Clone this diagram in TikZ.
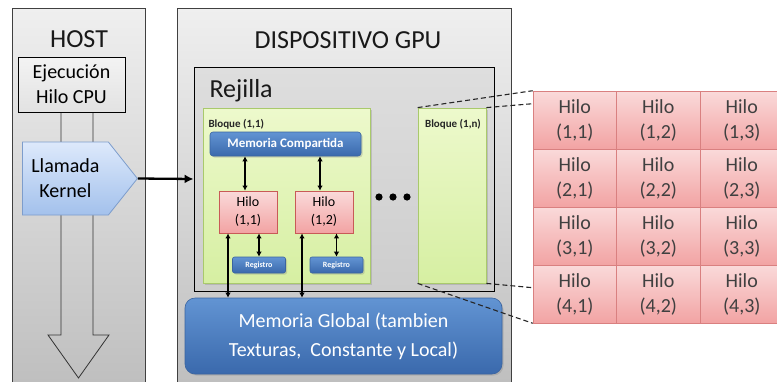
\documentclass[tikz,border=0pt]{standalone}
\usepackage{fontspec}
\setmainfont{Carlito}
\usepackage{tikz}
\usetikzlibrary{arrows.meta, positioning, shapes.symbols, shadows}

\definecolor{panelTop}{HTML}{EFEFEF}
\definecolor{panelBot}{HTML}{BEBEBE}
\definecolor{gridTop}{HTML}{DEDEDE}
\definecolor{gridBot}{HTML}{CDCDCD}
\definecolor{cpuTop}{HTML}{F3F3F3}
\definecolor{cpuBot}{HTML}{E2E2E2}
\definecolor{kernTop}{HTML}{DDE9FB}
\definecolor{kernBot}{HTML}{A3C1EC}
\definecolor{kernLine}{HTML}{7D9DCC}
\definecolor{blockTop}{HTML}{EDF9CC}
\definecolor{blockBot}{HTML}{D6EFA2}
\definecolor{blockLine}{HTML}{A9C96C}
\definecolor{blueTop}{HTML}{6294D3}
\definecolor{blueBot}{HTML}{3A69AC}
\definecolor{blueLine}{HTML}{3A64A0}
\definecolor{hiloTop}{HTML}{FADADA}
\definecolor{hiloBot}{HTML}{F2A3A3}
\definecolor{hiloLine}{HTML}{C85A57}
\definecolor{cellLine}{HTML}{D98080}
\definecolor{cellText}{HTML}{404040}

\begin{document}
\begin{tikzpicture}[
  x=1pt, y=-1pt,
  panel/.style={draw=black!75, line width=0.9pt, top color=panelTop, bottom color=panelBot, inner sep=0pt},
  title/.style={font=\fontsize{26}{28}\selectfont, text=black!90},
  cpubox/.style={draw=black, line width=0.8pt, top color=cpuTop, bottom color=cpuBot, align=center, inner sep=0pt,
    font=\fontsize{20}{25}\selectfont},
  kernbox/.style={signal, signal to=east, signal pointer angle=103, draw=kernLine, line width=0.8pt,
    top color=kernTop, bottom color=kernBot, align=center, inner sep=0pt, font=\fontsize{20}{25}\selectfont},
  gridbox/.style={draw=black, line width=0.9pt, top color=gridTop, bottom color=gridBot, inner sep=0pt},
  blockbox/.style={draw=blockLine, line width=0.8pt, top color=blockTop, bottom color=blockBot, inner sep=0pt,
    drop shadow={shadow xshift=1.5pt, shadow yshift=-1.5pt, opacity=0.3}},
  bluebox/.style={draw=blueLine, line width=0.6pt, rounded corners=#1, top color=blueTop, bottom color=blueBot,
    text=white, align=center, inner sep=0pt, drop shadow={shadow xshift=1.5pt, shadow yshift=-1.5pt, opacity=0.3}},
  bluebox/.default=3pt,
  hilobox/.style={draw=hiloLine, line width=0.8pt, top color=hiloTop, bottom color=hiloBot, align=center,
    inner sep=0pt, font=\fontsize{14}{18}\selectfont},
  cellbox/.style={draw=cellLine, line width=0.6pt, top color=hiloTop, bottom color=hiloBot, align=center,
    inner sep=0pt, minimum width=83.5pt, minimum height=58pt, text=cellText, font=\fontsize{20}{25}\selectfont},
  small/.style={font=\bfseries\fontsize{11}{13}\selectfont, text=black!85},
  link/.style={<->, >={Latex[length=5pt, width=5.5pt]}, line width=1.1pt},
  call/.style={-{Latex[length=9pt, width=9pt]}, line width=2.3pt},
  zoomline/.style={dash pattern=on 5pt off 3pt, line width=1.1pt, black!85}
]
\clip (0,0) rectangle (777,381);

% Panels
\node[panel, minimum width=133pt, minimum height=382pt] (host) at (78.5,199) {};
\node[title, anchor=base] (hostlbl) at (79,47) {HOST};
\node[panel, minimum width=334pt, minimum height=382pt] (gpu) at (344,199) {};
\node[title, anchor=base] (gpulbl) at (348,48) {DISPOSITIVO GPU};

% Host side
\draw[line width=0.8pt, black!80] (61,112) -- (61,335) -- (48,335) -- (78.5,378) -- (109,335) -- (93,335) -- (93,112);
\node[cpubox, minimum width=107pt, minimum height=55pt] (cpu) at (71.5,84.5) {Ejecución\\Hilo CPU};
\node[kernbox, minimum width=115pt, minimum height=73pt, anchor=west, text width=80pt] (kernel) at (22,178.5) {Llamada\\Kernel};

% Grid and blocks
\node[gridbox, minimum width=300pt, minimum height=224pt] (rejilla) at (344,179) {};
\node[title, anchor=base west] (rejlbl) at (206,97) {Rejilla};
\node[blockbox, minimum width=167pt, minimum height=175pt] (b11) at (286.5,195.5) {};
\node[small, anchor=base west] (b11lbl) at (205,127) {Bloque (1,1)};
\node[blockbox, minimum width=68pt, minimum height=175pt] (b1n) at (452,195.5) {};
\node[small, anchor=base] (b1nlbl) at (453,127) {Bloque (1,n)};

\node[bluebox, minimum width=151pt, minimum height=24pt, font=\bfseries\fontsize{13}{15}\selectfont] (mc) at (285.5,144) {Memoria Compartida};
\node[hilobox, minimum width=58pt, minimum height=42pt] (h11) at (248,212) {Hilo\\(1,1)};
\node[hilobox, minimum width=58pt, minimum height=42pt] (h12) at (324,212) {Hilo\\(1,2)};
\node[bluebox=2pt, minimum width=53pt, minimum height=16pt, font=\bfseries\fontsize{8}{9}\selectfont] (reg11) at (259,265) {Registro};
\node[bluebox=2pt, minimum width=53pt, minimum height=16pt, font=\bfseries\fontsize{8}{9}\selectfont] (reg12) at (336.5,265) {Registro};

\foreach \x in {379,393,407}
  \fill (\x,197) circle (3.6pt);

\node[bluebox=10pt, minimum width=317pt, minimum height=76pt, font=\fontsize{20}{29}\selectfont] (global) at (343.5,336)
  {Memoria Global (tambien\\Texturas,~ Constante y Local)};

% Threads of block (1,n)
\foreach \r in {1,...,4}
  \foreach \c in {1,2,3}
    \node[cellbox] (cell-\r-\c) at ({533+83.5*(\c-0.5)},{91+58*(\r-0.5)}) {Hilo\\(\r,\c)};

% Pointers
\draw[call] (kernel.east) -- (rejilla.west);
\draw[link] ([xshift=-3pt]h11.north |- mc.south) -- ([xshift=-3pt]h11.north);
\draw[link] ([xshift=-4pt]h12.north |- mc.south) -- ([xshift=-4pt]h12.north);
\draw[link] (reg11.north |- h11.south) -- (reg11.north);
\draw[link] (reg12.north |- h12.south) -- (reg12.north);
\draw[link] ([xshift=-20pt]h11.south) -- ([xshift=-20pt]h11.south |- global.north);
\draw[link] ([xshift=-22pt]h12.south) -- ([xshift=-22pt]h12.south |- global.north);

% Zoom lines
\draw[zoomline] (b1n.north west) -- (cell-1-1.north west);
\draw[zoomline] (b1n.north east) -- ([yshift=-13pt]cell-1-1.north west);
\draw[zoomline] (b1n.south east) -- ([yshift=-23pt]cell-4-1.north west);
\draw[zoomline] (b1n.south west) -- (cell-4-1.south west);
\end{tikzpicture}
\end{document}
